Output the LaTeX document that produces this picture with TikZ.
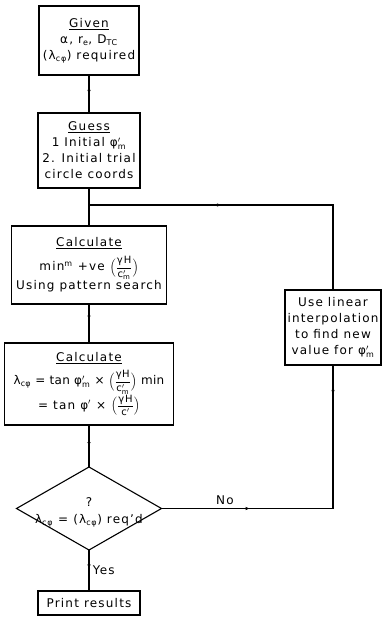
\documentclass[tikz,border=0pt]{standalone}
\usepackage{amsmath}
\usepackage{fontspec}
\setmainfont{DejaVu Sans}[LetterSpace=10]
\usetikzlibrary{arrows.meta, positioning, shapes.geometric, decorations.markings}

\newcommand*{\lcphi}{λ\textsubscript{cφ}}
\newcommand*{\phim}{$\text{φ}'_{\text{m}}$}
\newcommand*{\ratiom}{{\fontsize{10}{10}\selectfont$\Bigl(\dfrac{\text{γH}}{\text{c}'_{\text{m}}}\Bigr)$}}
\newcommand*{\ratioc}{{\fontsize{10}{10}\selectfont$\Bigl(\dfrac{\text{γH}}{\text{c}'}\Bigr)$}}

\begin{document}
\begin{tikzpicture}[
    x=1pt, y=-1pt,
    box/.style={rectangle, draw, line width=1.1pt, align=center, inner sep=2pt, outer sep=0pt,
        font=\fontsize{12}{16}\selectfont},
    decision/.style={diamond, draw, line width=1.1pt, inner sep=0pt, outer sep=0pt,
        minimum width=145pt, minimum height=83pt},
    flow/.style={line width=1.1pt},
    midarrow/.style={postaction={decorate}, decoration={markings,
        mark=at position #1 with {\arrow{Latex[length=4pt,width=3.5pt]}}}}
]
\useasboundingbox (0,0) rectangle (382,617);

\node[box, minimum width=100pt, minimum height=69pt] (given) at (89,40.5)
    {\underline{Given}\\ α, r\textsubscript{e}, D\textsubscript{TC}\\ (\lcphi) required};
\node[box, below=38pt of given, minimum width=102pt, minimum height=75pt] (guess)
    {\underline{Guess}\\ 1 Initial \phim\\ 2. Initial trial\\ circle coords};
\node[box, below=38pt of guess, minimum width=155pt, minimum height=78pt] (search)
    {\underline{Calculate}\\[6pt] min\textsuperscript{m} +ve \ratiom\\ Using pattern search};
\node[box, below=39pt of search, minimum width=169pt, minimum height=82pt] (factor)
    {\underline{Calculate}\\[6pt] {\addfontfeatures{LetterSpace=3}\lcphi{} = tan \phim{} × \ratiom{} min}\\ = tan $\text{φ}'$ × \ratioc};
\node[decision, below=42pt of factor,
    label={[align=center, font=\fontsize{12}{17}\selectfont, yshift=-4pt]center:{?\\ \lcphi{} = (\lcphi) req'd}}] (check) {};
\node[box, below=41pt of check, minimum width=102pt, minimum height=24pt] (print) {Print results};
\node[box, minimum width=96pt, minimum height=75pt] (interp) at (333,327.5)
    {Use linear\\ interpolation\\ to find new\\ value for \phim};
\coordinate (join) at (89,205);

\draw[flow, midarrow=0.5] (given) -- (guess);
\draw[flow] (guess) -- (search);
\draw[flow, midarrow=0.4] (search) -- (factor);
\draw[flow, midarrow=0.5] (factor) -- (check);
\draw[flow, midarrow=0.45] (check) -- node[right, font=\fontsize{12}{17}\selectfont] {Yes} (print);
\draw[flow, postaction={decorate}, decoration={markings,
        mark=at position 0.28 with {\arrow{Latex[length=4pt,width=3.5pt]}},
        mark=at position 0.93 with {\arrow{Latex[length=4pt,width=3.5pt]}}}]
    (check.east) -| node[above, pos=0.185, font=\fontsize{12}{17}\selectfont] {No} (interp.south);
\draw[flow, midarrow=0.62] (interp.north) |- (join);
\end{tikzpicture}
\end{document}
